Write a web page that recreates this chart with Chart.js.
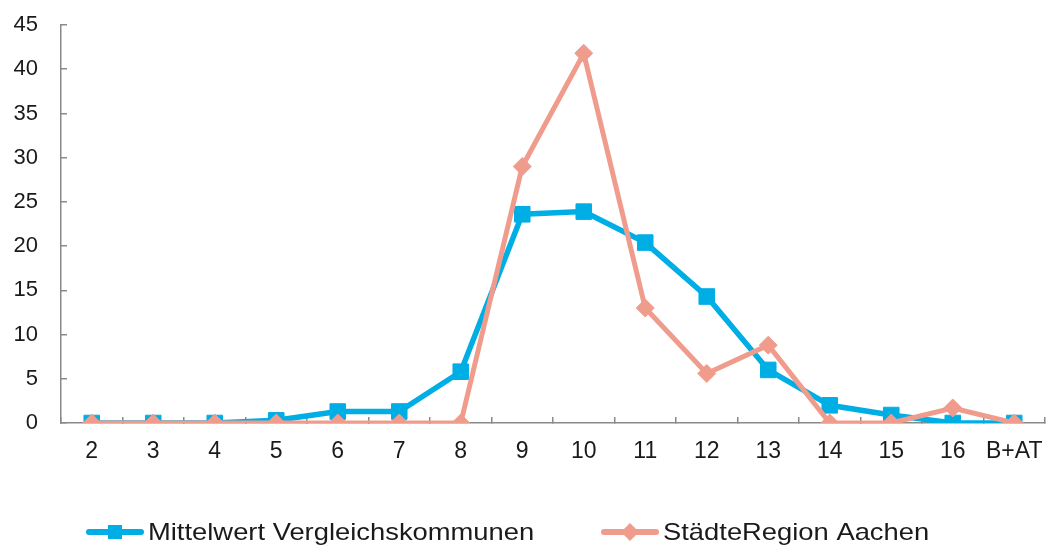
<!DOCTYPE html>
<html>
<head>
<meta charset="utf-8">
<script src="https://cdn.jsdelivr.net/npm/chart.js@4/dist/chart.umd.min.js"></script>
<style>
  html, body { margin: 0; padding: 0; background: #fff; }
  #wrap { width: 1049px; height: 545px; }
</style>
</head>
<body>
<div id="wrap"><canvas id="chart" width="1049" height="545"></canvas></div>
<script>
// data
const categories = ['2', '3', '4', '5', '6', '7', '8', '9', '10', '11', '12', '13', '14', '15', '16', 'B+AT'];
const mittelwert = [0, 0, 0, 0.3, 1.3, 1.3, 5.8, 23.6, 23.9, 20.4, 14.3, 6.0, 2.0, 0.9, 0, 0];
const aachen = [0, 0, 0, 0, 0, 0, 0, 29.0, 41.8, 13.0, 5.6, 8.8, 0, 0, 1.7, 0];
const yMax = 45;
const yStep = 5;

const blue = '#00AEE6';
const salmon = '#F09C8C';
const axisGrey = '#8a8a8a';
const textCol = '#1a1a1a';
const fontFam = '"Liberation Sans", Arial, sans-serif';

// legend below the axis, drawn by hand so it can sit where the original has it
const legendPos = [87, 602];
const bottomLegend = {
  id: 'bottomLegend',
  afterDraw(chart) {
    const ctx = chart.ctx;
    const y = 532;
    chart.data.datasets.forEach((ds, i) => {
      const x = legendPos[i];
      ctx.save();
      ctx.strokeStyle = ds.borderColor;
      ctx.lineWidth = 6;
      ctx.lineCap = 'round';
      ctx.beginPath();
      ctx.moveTo(x + 2, y);
      ctx.lineTo(x + 54, y);
      ctx.stroke();
      ctx.fillStyle = ds.pointBackgroundColor;
      ctx.beginPath();
      if (ds.pointStyle === 'rect') {
        ctx.rect(x + 28 - 7, y - 7, 14, 14);
      } else {
        ctx.moveTo(x + 28 - 9, y);
        ctx.lineTo(x + 28, y - 9);
        ctx.lineTo(x + 28 + 9, y);
        ctx.lineTo(x + 28, y + 9);
        ctx.closePath();
      }
      ctx.fill();
      ctx.translate(x + 61, y);
      ctx.scale(1.14, 1);
      ctx.fillStyle = textCol;
      ctx.font = '24px ' + fontFam;
      ctx.textBaseline = 'middle';
      ctx.fillText(ds.label, 0, 1);
      ctx.restore();
    });
  }
};

const ctx = document.getElementById('chart');
const chart = new Chart(ctx, {
  type: 'line',
  data: {
    labels: categories,
    datasets: [{
      label: 'Mittelwert Vergleichskommunen',
      data: mittelwert,
      borderColor: blue,
      backgroundColor: blue,
      pointBackgroundColor: blue,
      pointBorderColor: blue,
      borderWidth: 5.5,
      pointStyle: 'rect',
      pointRadius: 11,
      pointBorderWidth: 1,
      tension: 0,
      order: 1
    }, {
      label: 'StädteRegion Aachen',
      data: aachen,
      borderColor: salmon,
      backgroundColor: salmon,
      pointBackgroundColor: salmon,
      pointBorderColor: salmon,
      borderWidth: 5,
      pointStyle: 'rectRot',
      pointRadius: 9,
      pointBorderWidth: 1,
      tension: 0,
      order: 0
    }]
  },
  options: {
    responsive: false,
    animation: false,
    layout: { autoPadding: false, padding: { top: 25, right: 4, left: 0, bottom: 0 } },
    plugins: {
      legend: { display: false },
      tooltip: { enabled: false }
    },
    scales: {
      x: {
        offset: true,
        grid: {
          offset: true,
          drawOnChartArea: false,
          tickLength: -6,
          color: axisGrey,
          lineWidth: 1.5
        },
        border: { color: axisGrey, width: 1.5 },
        ticks: {
          color: textCol,
          padding: 21,
          maxRotation: 0,
          autoSkip: false,
          font: { family: fontFam, size: 23 }
        },
        afterFit(scale) {
          scale.height = 122;
          scale.paddingLeft = 0;
          scale.paddingRight = 0;
        }
      },
      y: {
        min: 0,
        max: yMax,
        grid: {
          drawOnChartArea: false,
          tickLength: -6,
          color: axisGrey,
          lineWidth: 1.5
        },
        border: { color: axisGrey, width: 1.5 },
        ticks: {
          stepSize: yStep,
          color: textCol,
          padding: 29,
          font: { family: fontFam, size: 22 }
        },
        afterFit(scale) {
          scale.width = 61;
          scale.paddingTop = 0;
          scale.paddingBottom = 0;
        }
      }
    }
  },
  plugins: [bottomLegend]
});
</script>
</body>
</html>
